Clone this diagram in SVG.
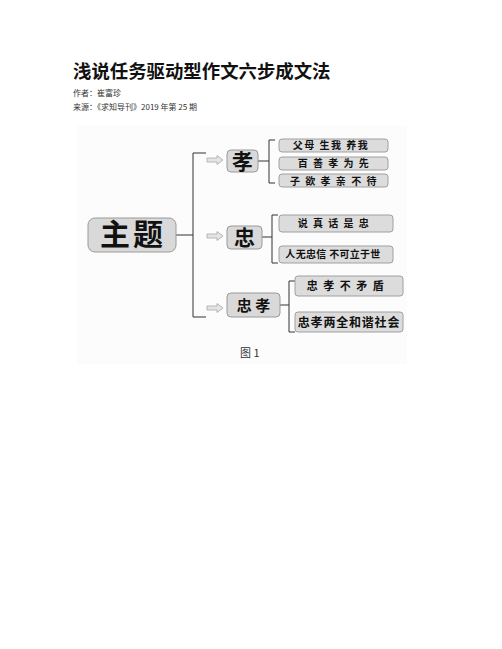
<svg xmlns="http://www.w3.org/2000/svg" width="502" height="649" viewBox="0 0 502 649">
<style>
text{font-family:"Noto Sans CJK SC","Liberation Sans",sans-serif;fill:#111}
.node{fill:#d9d9d9;stroke:#9a9a9a;stroke-width:1}
.leaf{fill:#dcdcdc;stroke:#a0a0a0;stroke-width:1}
.ln{fill:none;stroke:#333;stroke-width:1}
.arr{fill:#e4e4e4;stroke:#a8a8a8;stroke-width:0.8}
.lt{font-size:10px;text-anchor:middle;font-weight:bold;letter-spacing:1.5px}
.big{text-anchor:middle;font-weight:bold}
</style>
<rect width="502" height="649" fill="#fff"/>
<text x="73" y="78" style="font-size:18.4px;font-weight:bold">浅说任务驱动型作文六步成文法</text>
<text x="73" y="96" style="font-size:8px;fill:#333">作者：崔富珍</text>
<text x="73" y="110" style="font-size:8px;fill:#333">来源：《求知导刊》2019 年第 25 期</text>
<rect x="77" y="126" width="330" height="238" fill="#fcfcfc"/>
<g id="connectors">
<path class="ln" d="M176,235H193M206,153H193V317H206"/>
<path class="ln" d="M258,161H269M275,140H269V183H275"/>
<path class="ln" d="M262,237H272M278,215H272V263H278"/>
<path class="ln" d="M280,305H289M295,281H289V332H295"/>
<polygon class="arr" points="207,158 217,158 217,155.5 223,160 217,164.5 217,162 207,162"/>
<polygon class="arr" points="207,234 217,234 217,231.5 223,236 217,240.5 217,238 207,238"/>
<polygon class="arr" points="207,306 217,306 217,303.5 223,308 217,312.5 217,310 207,310"/>
</g>
<g id="n-main"><rect class="node" x="88" y="218" width="88" height="34" rx="7"/><text class="big" x="133" y="245" style="font-size:30px;letter-spacing:3px">主题</text></g>
<g id="n-xiao"><rect class="node" x="227" y="150" width="31" height="22" rx="4"/><text class="big" x="242.5" y="169" style="font-size:21px">孝</text></g>
<g id="n-zhong"><rect class="node" x="227" y="226" width="35" height="23" rx="4"/><text class="big" x="244.5" y="245" style="font-size:21px">忠</text></g>
<g id="n-zhongxiao"><rect class="node" x="227" y="293" width="53" height="24" rx="4"/><text class="big" x="253.5" y="310.5" style="font-size:15px">忠 孝</text></g>
<g id="l-x1"><rect class="leaf" x="279" y="139" width="109" height="13" rx="3"/><text class="lt" x="331" y="149">父母 生我 养我</text></g>
<g id="l-x2"><rect class="leaf" x="279" y="157" width="109" height="13" rx="3"/><text class="lt" x="334" y="167">百 善 孝 为 先</text></g>
<g id="l-x3"><rect class="leaf" x="279" y="174" width="109" height="13" rx="3"/><text class="lt" x="334" y="184.5">子 欲 孝 亲 不 待</text></g>
<g id="l-z1"><rect class="leaf" x="279" y="215" width="114" height="17" rx="3"/><text class="lt" x="334" y="227">说 真 话 是 忠</text></g>
<g id="l-z2"><rect class="leaf" x="279" y="246" width="114" height="17" rx="3"/><text class="lt" x="333" y="258" style="letter-spacing:0.3px">人无忠信 不可立于世</text></g>
<g id="l-zx1"><rect class="leaf" x="295" y="276" width="108" height="20" rx="3"/><text class="lt" x="346" y="290" style="font-size:11px">忠 孝 不 矛 盾</text></g>
<g id="l-zx2"><rect class="leaf" x="295" y="312" width="108" height="20" rx="3"/><text class="lt" x="349" y="326.5" style="font-size:12px;letter-spacing:0.8px">忠孝两全和谐社会</text></g>
<text x="240" y="357" style="font-size:11px;fill:#333">图 1</text>
</svg>
